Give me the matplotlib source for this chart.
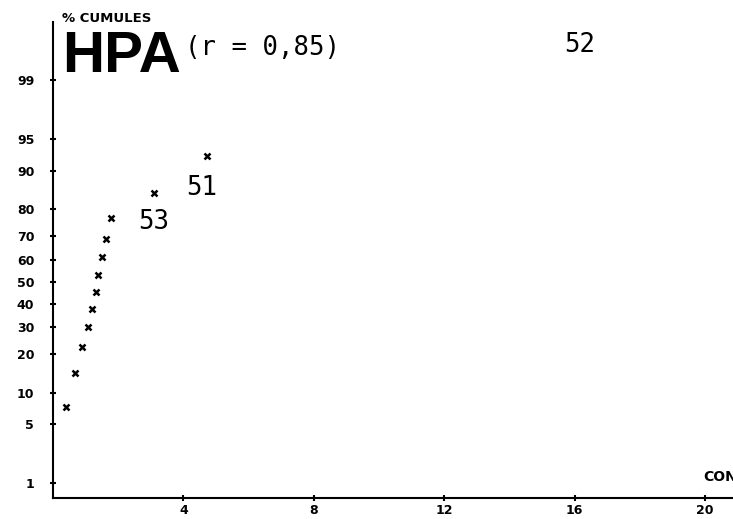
import numpy as np
import matplotlib
matplotlib.use("Agg")
import matplotlib.pyplot as plt
from statistics import NormalDist

# HPA: concentration vs cumulative frequency (probability paper)
conc = [0.40, 0.67, 0.89, 1.07, 1.20, 1.32, 1.38, 1.50, 1.63, 1.78, 3.10, 4.72]
cum_pct = [7.4, 14.5, 22.5, 29.9, 37.5, 45.2, 53.0, 61.1, 68.8, 76.8, 84.6, 92.6]

# station numbers written next to some points
station_idx = [10, 11]
station_lab = ["53", "51"]
station_off = [(0, -11.5), (-3.6, -13.5)]

y_ticks = [1, 5, 10, 20, 30, 40, 50, 60, 70, 80, 90, 95, 99]
x_ticks = [4, 8, 12, 16, 20]

_nd = NormalDist()


def pct_to_z(p):
    p = np.clip(np.asarray(p, dtype=float), 1e-6, 100 - 1e-6)
    return np.vectorize(lambda v: _nd.inv_cdf(v / 100.0), otypes=[float])(p)


def z_to_pct(z):
    z = np.asarray(z, dtype=float)
    return np.vectorize(lambda v: 100.0 * _nd.cdf(v), otypes=[float])(z)


fig = plt.figure(figsize=(7.33, 5.19), dpi=100)
ax = fig.add_axes([53 / 733, 21 / 519, 680 / 733, 476 / 519])

ax.set_yscale("function", functions=(pct_to_z, z_to_pct))
ax.set_ylim(0.62, 99.865)
ax.set_xlim(0, 20.86)

ax.plot(conc, cum_pct, ls="none", marker="x", ms=4.5, mew=1.8, color="black")

for i, lab, off in zip(station_idx, station_lab, station_off):
    ax.annotate(lab, (conc[i], cum_pct[i]), xytext=off, textcoords="offset points",
                ha="center", va="top", fontsize=18.5, family="DejaVu Sans Mono",
                color="black")

ax.spines["top"].set_visible(False)
ax.spines["right"].set_visible(False)
for s in ("left", "bottom"):
    ax.spines[s].set_linewidth(1.5)

ax.set_yticks(y_ticks)
ax.set_yticklabels([str(v) for v in y_ticks])
ax.yaxis.set_minor_locator(matplotlib.ticker.NullLocator())
ax.set_xticks(x_ticks)
ax.set_xticklabels([str(v) for v in x_ticks])

ax.tick_params(axis="both", direction="inout", length=5, width=1.5)
ax.tick_params(axis="y", pad=11, labelsize=9)
ax.tick_params(axis="x", pad=2, labelsize=9)
for t in ax.get_xticklabels() + ax.get_yticklabels():
    t.set_fontweight("bold")

# header text
fig.text(62 / 733, 1 - 19 / 519, "% CUMULES", fontsize=9.5, fontweight="bold",
         va="center", ha="left")
fig.text(62 / 733, 1 - 72 / 519, "HPA", fontsize=42, fontweight="bold",
         family="Liberation Sans", va="baseline", ha="left")
fig.text(185 / 733, 1 - 55 / 519, "(r = 0,85)", fontsize=18.5,
         family="DejaVu Sans Mono", va="baseline", ha="left")
fig.text(580 / 733, 1 - 45 / 519, "52", fontsize=18.5,
         family="DejaVu Sans Mono", va="center", ha="center")
fig.text(703 / 733, 1 - 477 / 519, "CONC", fontsize=10, fontweight="bold",
         va="center", ha="left")

fig.savefig("out.png", dpi=100)
